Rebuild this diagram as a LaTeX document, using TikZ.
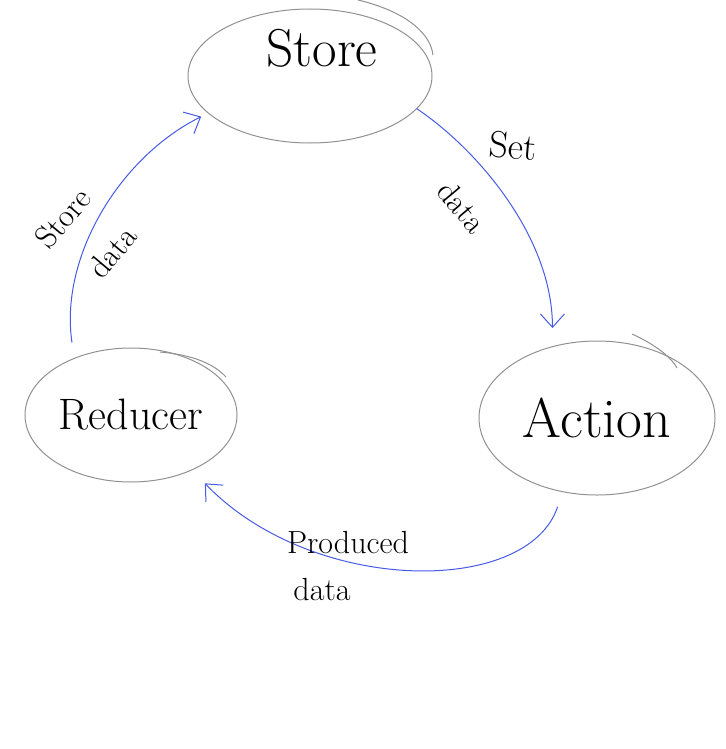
\documentclass[tikz,border=0pt]{standalone}
\usetikzlibrary{shapes.geometric,arrows.meta}

\tikzset{every picture/.style={line width=0.75pt}}
\tikzset{
    blob/.style={draw={rgb, 255:red, 145; green, 145; blue, 145 }, ellipse, inner sep=0pt, outer sep=0pt},
    flow/.style={draw={rgb, 255:red, 70; green, 90; blue, 230 }, -{Straight Barb[length=10pt,width=18pt]}},
    scribble/.style={draw={rgb, 255:red, 145; green, 145; blue, 145 }},
    hand/.style={inner sep=0pt, font=\fontsize{24}{26}\selectfont}
}

\begin{document}
\begin{tikzpicture}[x=0.75pt,y=0.75pt,yscale=-1,xscale=1]
        \useasboundingbox (0,0) rectangle (725,749);
        \node [blob, minimum width=183pt, minimum height=100.5pt] (store) at (310,76) {};
        \node [blob, minimum width=159pt, minimum height=100.5pt, font=\fontsize{33}{36}\selectfont] (reducer) at (131,415) {Reducer};
        \node [blob, minimum width=177pt, minimum height=115.5pt, font=\fontsize{42}{44}\selectfont] (action) at (597,418) {Action};
        \node [inner sep=0pt, font=\fontsize{40}{42}\selectfont] (storetext) at (322,48) {Store};
        \draw [scribble]  (358,0) .. controls (400,10) and (430,30) .. (433,55) ;
        \draw [scribble]  (160,352) .. controls (195,355) and (215,365) .. (226,377) ;
        \draw [scribble]  (632,334) .. controls (650,342) and (670,355) .. (677,368) ;
        \draw [flow, shorten >=14pt]  (store.-17) .. controls +(60,40) and +(0,-110) .. (action.122) ;
        \draw [flow, shorten <=12pt, shorten >=14pt]  (action.245) .. controls +(-35,105) and +(120,125) .. (reducer.-42) ;
        \draw [flow, shorten <=12pt, shorten >=6pt]  (reducer.135) .. controls +(-15,-100) and +(-90,45) .. (store.200) ;
        \node [hand, rotate=-5, font=\fontsize{28}{30}\selectfont] (setlbl) at (513,146) {Set};
        \node [hand, rotate=-50] (setdata) at (462,207) {data};
        \node [hand, rotate=50] (storelbl) at (63,218) {Store};
        \node [hand, rotate=50] (storedata) at (112,252) {data};
        \node [hand] (producedlbl) at (348,543) {Produced};
        \node [hand] (produceddata) at (322,590) {data};
    \end{tikzpicture}
\end{document}
